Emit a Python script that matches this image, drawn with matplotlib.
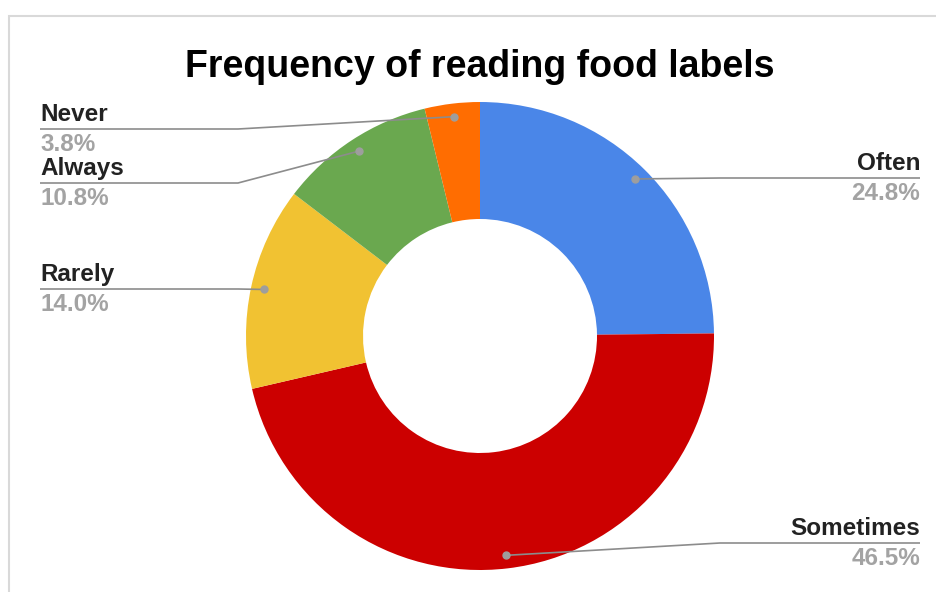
import numpy as np
import matplotlib
matplotlib.use("Agg")
import matplotlib.pyplot as plt
from matplotlib.patches import Rectangle

title = "Frequency of reading food labels"
categories = ["Often", "Sometimes", "Rarely", "Always", "Never"]
shares = [24.8, 46.5, 14.0, 10.8, 3.8]
colors = ["#4a86e8", "#cc0000", "#f1c232", "#6aa84f", "#ff6d01"]

# label layout (pixel rows of the leader lines, from the top of the image)
label_line_y = [178, 543, 289, 183, 129]

W, H = 936, 592
cx, cy, R = 480, 336, 234

plt.rcParams["font.family"] = ["Liberation Sans", "DejaVu Sans"]

fig = plt.figure(figsize=(W / 100, H / 100), dpi=100)
ax = fig.add_axes([0, 0, 1, 1])


def py(y):
    # pixel row (top-down) -> data y (bottom-up)
    return H - y


wedges, _ = ax.pie(shares, colors=colors, startangle=90, counterclock=False,
                   radius=R, center=(cx, py(cy)),
                   wedgeprops=dict(width=R / 2, linewidth=0))

ax.set_xlim(0, W)
ax.set_ylim(0, H)
ax.set_aspect("auto")
ax.axis("off")

# chart frame
ax.add_patch(Rectangle((9, -10), W, py(16) + 10, fill=False,
                       edgecolor="#d9d9d9", linewidth=1.5))

ax.text(cx, py(77), title, ha="center", va="baseline",
        fontsize=27, fontweight="bold", color="#000000")

total = sum(shares)
start = 90.0
for name, val, ly in zip(categories, shares, label_line_y):
    sweep = val / total * 360
    mid = np.deg2rad(start - sweep / 2)
    start -= sweep
    dx = cx + 0.944 * R * np.cos(mid)
    dy = py(cy) + 0.944 * R * np.sin(mid)
    right = np.cos(mid) > 0
    if right:
        xs = [dx, 720, 920]
        tx, ha = 920, "right"
    else:
        xs = [dx, 238, 40]
        tx, ha = 40, "left"
    ys = [dy, py(ly), py(ly)]
    ax.plot(xs, ys, color="#8c8c8c", linewidth=1.2, solid_capstyle="butt")
    ax.plot([dx], [dy], "o", color="#9e9e9e", markersize=5)
    ax.text(tx, py(ly - 8), name, ha=ha, va="baseline",
            fontsize=17.5, fontweight="bold", color="#222222")
    ax.text(tx, py(ly + 22), f"{val:.1f}%", ha=ha, va="baseline",
            fontsize=17.5, fontweight="bold", color="#a3a3a3")

fig.savefig("out.png", dpi=100, facecolor="white")
